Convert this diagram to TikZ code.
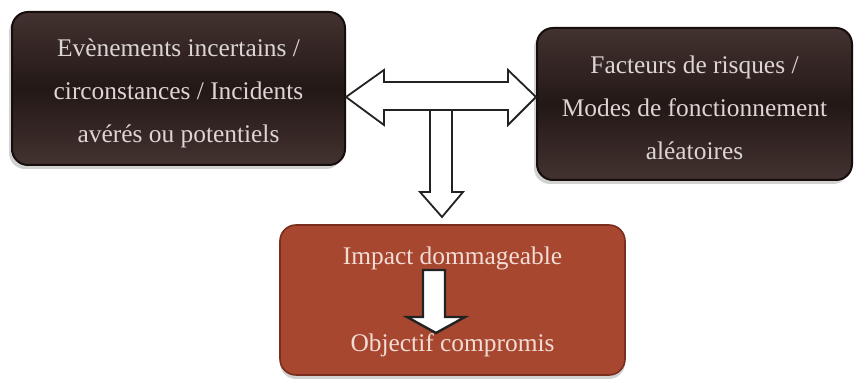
\documentclass[tikz,border=0pt]{standalone}
\usepackage{fontspec}
\setmainfont{Liberation Serif}
\usetikzlibrary{shadows,calc}
\definecolor{darkbox}{HTML}{433230}
\definecolor{darkmid}{HTML}{231816}
\definecolor{darkedge}{HTML}{150E0D}
\definecolor{redbox}{HTML}{A8472F}
\definecolor{rededge}{HTML}{7A2E1E}
\definecolor{lighttext}{HTML}{DDD5D3}
\definecolor{pinktext}{HTML}{F2DDD6}
\definecolor{arrowline}{HTML}{222222}
\tikzset{
  darkbox/.style={rectangle, rounded corners=8pt, draw=darkedge, line width=1pt,
    top color=darkbox, bottom color=darkbox, middle color=darkmid,
    drop shadow={shadow xshift=-1.5pt, shadow yshift=-2pt, opacity=0.35, fill=gray}},
  redbox/.style={rectangle, rounded corners=8pt, draw=rededge, line width=0.8pt,
    fill=redbox,
    drop shadow={shadow xshift=0pt, shadow yshift=-2pt, opacity=0.35, fill=gray}},
  darktext/.style={text=lighttext, align=center, font=\fontsize{12.7}{21.5}\selectfont},
  redtext/.style={text=pinktext, font=\fontsize{12.7}{15}\selectfont},
  bigarrow/.style={draw=arrowline, line width=0.9pt, fill=white, line join=miter},
}
\begin{document}
\begin{tikzpicture}[x=0.5pt, y=-0.5pt]
\useasboundingbox[fill=white] (0,0) rectangle (856,383);
\node[darkbox, minimum width=166.5pt, minimum height=76.5pt] (L) at (178.5,88.5) {};
\node[darktext] (Lt) at ($(L.center)+(0,4.5)$)
  {Evènements incertains /\\circonstances / Incidents\\avérés ou potentiels};
\node[darkbox, minimum width=157.5pt, minimum height=76pt] (R) at (694.5,104) {};
\node[darktext] (Rt) at ($(R.center)+(0,3.5)$)
  {Facteurs de risques /\\Modes de fonctionnement\\aléatoires};
\node[redbox, minimum width=172.5pt, minimum height=75pt] (B) at (452.5,300) {};
\node[redtext] (imp) at (452.5,258.5) {Impact dommageable};
\node[redtext] (obj) at (452.5,345) {Objectif compromis};
% double arrow between L and R
\coordinate (lt) at (L.east |- 0,97);
\coordinate (rt) at (R.west |- 0,97);
\draw[bigarrow] (lt) -- ++(38,-27) -- ++(0,12) -- ($(rt)+(-28,-15)$) -- ++(0,-12) -- (rt)
  -- ++(-28,28) -- ++(0,-15) -- ($(lt)+(38,13)$) -- ++(0,15) -- cycle;
% down arrow towards B
\coordinate (dtip) at (442,217);
\draw[bigarrow] (430,110) -- (452,110) -- (452,192) -- (463,192) -- (dtip) -- (420,192) -- (430,192) -- cycle;
% inner arrow from imp to obj
\coordinate (itip) at (436,333);
\draw[bigarrow, line width=1.2pt] (423,270) -- (445,270) -- (445,317) -- (465,317) -- (itip) -- (407,317) -- (423,317) -- cycle;
\end{tikzpicture}
\end{document}
